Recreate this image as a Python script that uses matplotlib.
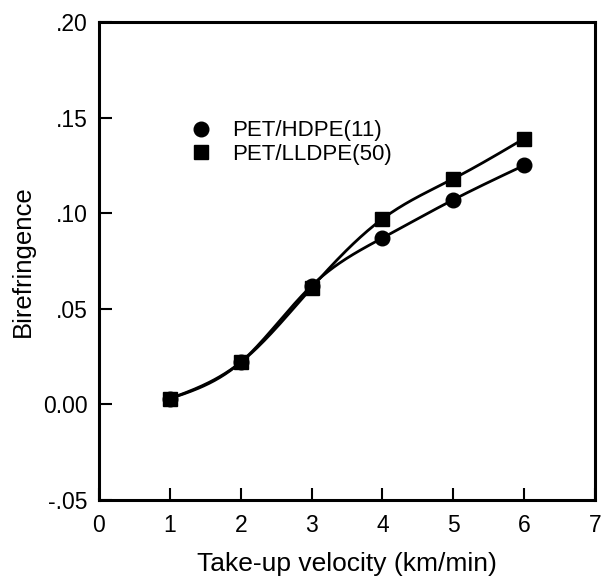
import numpy as np
import matplotlib.pyplot as plt
from matplotlib.lines import Line2D

plt.rcParams['font.family'] = ['Liberation Sans', 'DejaVu Sans']

velocity = [1, 2, 3, 4, 5, 6]
hdpe = [0.003, 0.022, 0.062, 0.087, 0.107, 0.125]
lldpe = [0.003, 0.022, 0.061, 0.097, 0.118, 0.139]


def natural_spline(x, y, n=200):
    # natural cubic spline, just for drawing the smooth line through the points
    x = np.asarray(x, float)
    y = np.asarray(y, float)
    k = len(x)
    h = np.diff(x)
    A = np.zeros((k, k))
    b = np.zeros(k)
    A[0, 0] = A[-1, -1] = 1
    for i in range(1, k - 1):
        A[i, i - 1] = h[i - 1]
        A[i, i] = 2 * (h[i - 1] + h[i])
        A[i, i + 1] = h[i]
        b[i] = 3 * ((y[i + 1] - y[i]) / h[i] - (y[i] - y[i - 1]) / h[i - 1])
    c = np.linalg.solve(A, b)
    xs = np.linspace(x[0], x[-1], n)
    idx = np.clip(np.searchsorted(x, xs) - 1, 0, k - 2)
    dx = xs - x[idx]
    bb = (y[1:] - y[:-1]) / h - h * (2 * c[:-1] + c[1:]) / 3
    d = (c[1:] - c[:-1]) / (3 * h)
    ys = y[idx] + bb[idx] * dx + c[idx] * dx ** 2 + d[idx] * dx ** 3
    return xs, ys


fig = plt.figure(figsize=(6.01, 5.78), dpi=100)
ax = fig.add_axes([0.1647, 0.135, 0.8253, 0.827])

for vals, mk in [(hdpe, 'o'), (lldpe, 's')]:
    xs, ys = natural_spline(velocity, vals)
    ax.plot(xs, ys, color='black', lw=2)
    ax.plot(velocity, vals, mk, color='black', ms=10.5 if mk == 'o' else 9.5)

ax.set_xlim(0, 7)
ax.set_ylim(-0.05, 0.20)
ax.set_xticks(range(0, 8))
yt = [-0.05, 0.0, 0.05, 0.10, 0.15, 0.20]
ax.set_yticks(yt)
ax.set_yticklabels(['-.05', '0.00', '.05', '.10', '.15', '.20'])
ax.tick_params(direction='in', length=9, width=1.5, labelsize=16.5, pad=8)
ax.tick_params(axis='x', pad=10)
for s in ax.spines.values():
    s.set_linewidth(2.2)

ax.set_xlabel('Take-up velocity (km/min)', fontsize=19, labelpad=11)
ax.set_ylabel('Birefringence', fontsize=18.5, labelpad=6)

handles = [Line2D([], [], ls='none', marker='o', color='black', ms=10.5),
           Line2D([], [], ls='none', marker='s', color='black', ms=9.5)]
ax.legend(handles, ['PET/HDPE(11)', 'PET/LLDPE(50)'], loc='upper left',
          bbox_to_anchor=(0.142, 0.836), frameon=False, fontsize=16,
          handlelength=1.0, handletextpad=0.9, labelspacing=0.12)

fig.savefig('out.png', dpi=100)
